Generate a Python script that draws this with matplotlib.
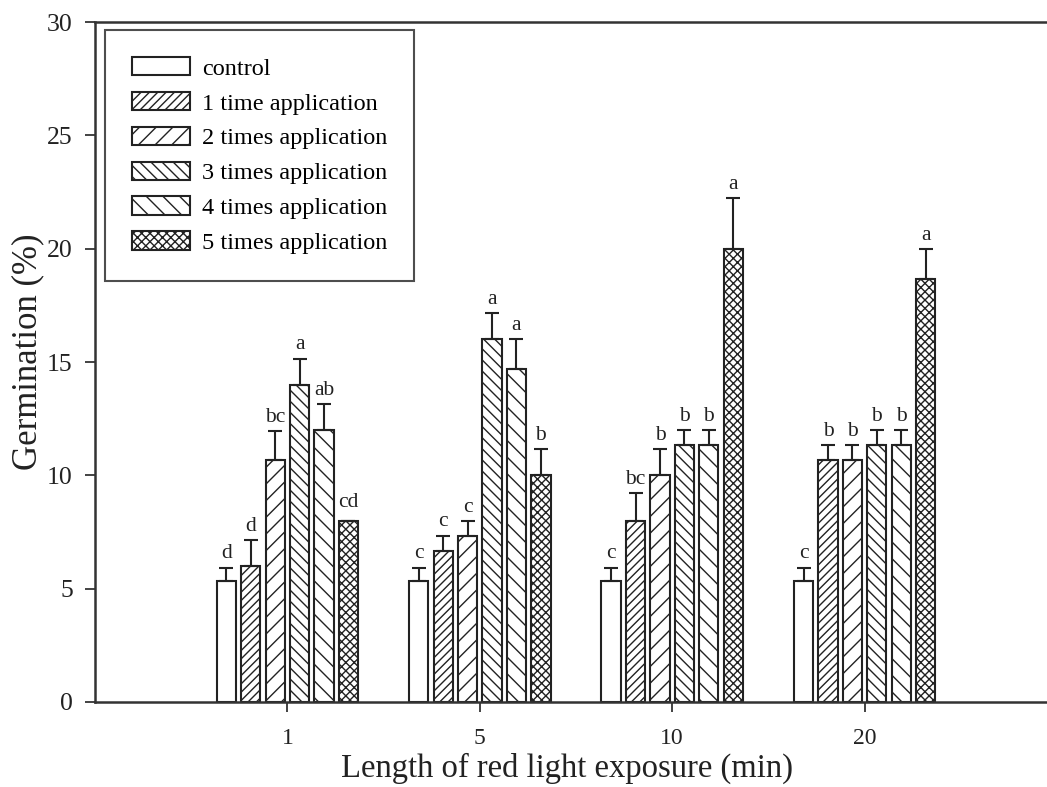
import numpy as np
import matplotlib
matplotlib.use("Agg")
import matplotlib.pyplot as plt

plt.rcParams['font.family'] = ['Liberation Serif', 'DejaVu Serif']
plt.rcParams['hatch.linewidth'] = 1.0

exposure = ["1", "5", "10", "20"]
series = ["control", "1 time application", "2 times application",
          "3 times application", "4 times application", "5 times application"]

# germination (%) per series, one value per exposure length
control = [5.33, 5.33, 5.33, 5.33]
app1 = [6.0, 6.67, 8.0, 10.67]
app2 = [10.67, 7.33, 10.0, 10.67]
app3 = [14.0, 16.0, 11.33, 11.33]
app4 = [12.0, 14.67, 11.33, 11.33]
app5 = [8.0, 10.0, 20.0, 18.67]

# standard errors (upper only)
err_control = [0.6, 0.6, 0.6, 0.6]
err_app1 = [1.15, 0.67, 1.2, 0.67]
err_app2 = [1.3, 0.67, 1.15, 0.67]
err_app3 = [1.15, 1.15, 0.67, 0.67]
err_app4 = [1.15, 1.33, 0.67, 0.67]
err_app5 = [0.0, 1.15, 2.25, 1.33]

# significance letters
let_control = ["d", "c", "c", "c"]
let_app1 = ["d", "c", "bc", "b"]
let_app2 = ["bc", "c", "b", "b"]
let_app3 = ["a", "a", "b", "b"]
let_app4 = ["ab", "a", "b", "b"]
let_app5 = ["cd", "b", "a", "a"]

values = [control, app1, app2, app3, app4, app5]
errors = [err_control, err_app1, err_app2, err_app3, err_app4, err_app5]
letters = [let_control, let_app1, let_app2, let_app3, let_app4, let_app5]
hatches = ["", "////", "//", "\\\\\\", "\\\\", "xxxx"]

fig = plt.figure(figsize=(10.47, 7.87), dpi=100)
ax = fig.add_axes([95/1047, 85/787, 962/1047, 680/787])

x = np.arange(len(exposure))
pitch = 0.127
width = 0.1
ink = "#222222"

for i in range(len(series)):
    pos = x + (i - 2.5) * pitch
    ax.bar(pos, values[i], width, color="white", edgecolor=ink, linewidth=1.5,
           hatch=hatches[i], label=series[i], zorder=2)
    ax.errorbar(pos, values[i], yerr=[np.zeros(len(x)), errors[i]], fmt="none",
                ecolor=ink, elinewidth=1.5, capsize=5, capthick=1.5, zorder=3)
    for j in range(len(x)):
        top = values[i][j] + errors[i][j]
        off = 3 if errors[i][j] > 0 else 6
        ax.annotate(letters[i][j], (pos[j], top), xytext=(0, off),
                    textcoords="offset points", ha="center", va="bottom",
                    fontsize=15.5, color=ink)

ax.set_xlim(-1, 4)
ax.set_ylim(0, 30)
ax.set_xticks(x)
ax.set_xticklabels(exposure)
ax.set_yticks(np.arange(0, 31, 5))
ax.tick_params(direction="out", length=7, width=1.2, colors=ink)
ax.tick_params(axis="x", pad=12, labelsize=17)
ax.tick_params(axis="y", pad=9, labelsize=18.5)
for s in ax.spines.values():
    s.set_linewidth(1.8)
    s.set_color("#333333")

ax.set_xlabel("Length of red light exposure (min)", fontsize=23.5, color=ink)
ax.set_ylabel("Germination (%)", fontsize=25, color=ink)
ax.xaxis.set_label_coords(0.4906, -0.074)
ax.yaxis.set_label_coords(-0.053, 0.515)

leg = ax.legend(loc="upper left", bbox_to_anchor=(0.0104, 0.988), borderaxespad=0,
                fontsize=17.5, frameon=True, fancybox=False, edgecolor=ink,
                handlelength=2.4, handleheight=0.8, labelspacing=0.5,
                handletextpad=0.5, borderpad=1.1)
leg.get_frame().set_linewidth(1.5)

fig.savefig("out.png", dpi=100)
